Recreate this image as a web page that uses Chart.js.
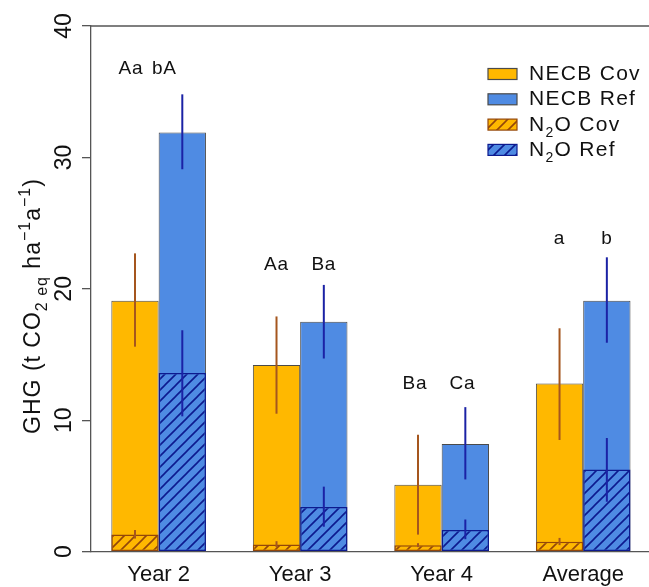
<!DOCTYPE html>
<html>
<head>
<meta charset="utf-8">
<title>GHG balance by year</title>
<script src="https://cdn.jsdelivr.net/npm/chart.js@4.4.1/dist/chart.umd.min.js"></script>
<style>
  html, body { margin: 0; padding: 0; background: #fff; }
  #wrap { width: 649px; height: 587px; position: relative; }
</style>
</head>
<body>
<div id="wrap"><canvas id="chartGhg"></canvas></div>
<script>
/* ------------------------------
 * data (t CO2eq ha-1 a-1)
 * ------------------------------ */
const categories = ['Year 2', 'Year 3', 'Year 4', 'Average'];
const yTicks = [0, 10, 20, 30, 40];

const necbCov = [19.1, 14.2, 5.1, 12.8];
const necbRef = [31.9, 17.5, 8.2, 19.1];
const n2oCov = [1.3, 0.55, 0.5, 0.75];
const n2oRef = [13.6, 3.4, 1.65, 6.25];

// error bar ends
const necbCovLo = [15.6, 10.5, 1.3, 8.5];
const necbCovHi = [22.7, 17.9, 8.9, 17.0];
const necbRefLo = [29.1, 14.7, 5.5, 15.9];
const necbRefHi = [34.8, 20.3, 11.0, 22.4];
const n2oCovLo = [1.0, 0.35, 0.35, 0.5];
const n2oCovHi = [1.65, 0.8, 0.65, 1.05];
const n2oRefLo = [10.3, 1.9, 0.95, 3.8];
const n2oRefHi = [16.85, 4.95, 2.45, 8.65];

// significance letters
const lettersCov = ['Aa', 'Aa', 'Ba', 'a'];
const lettersRef = ['bA', 'Ba', 'Ca', 'b'];
const letterLevel = [36.75, 21.8, 12.8, 23.8];

/* ------------------------------
 * helpers
 * ------------------------------ */
const FONT = '"Liberation Sans", Arial, sans-serif';
const cvs = document.getElementById('chartGhg');
const c2d = cvs.getContext('2d');

function hatch(bg, fg) {
    const s = 11;
    const c = document.createElement('canvas');
    c.width = s; c.height = s;
    const g = c.getContext('2d');
    g.fillStyle = bg;
    g.fillRect(0, 0, s, s);
    g.strokeStyle = fg;
    g.lineWidth = 1.6;
    g.beginPath();
    g.moveTo(0, s); g.lineTo(s, 0);
    g.moveTo(-s / 2, s / 2); g.lineTo(s / 2, -s / 2);
    g.moveTo(s / 2, s * 1.5); g.lineTo(s * 1.5, s / 2);
    g.stroke();
    return c2d.createPattern(c, 'repeat');
}

// parts: [text, 0 normal | 1 sub | 2 sup]
function drawRich(ctx, parts, x, y, size, spacing, centered) {
    const fontOf = k => `${k ? Math.round(size * 0.68) : size}px ${FONT}`;
    const shift = [0, size * 0.3, -size * 0.42];
    ctx.letterSpacing = spacing + 'px';
    ctx.textAlign = 'left';
    let w = 0;
    parts.forEach(([t, k]) => { ctx.font = fontOf(k); w += ctx.measureText(t).width; });
    let cx = centered ? x - w / 2 : x;
    parts.forEach(([t, k]) => {
        ctx.font = fontOf(k);
        ctx.fillText(t, cx, y + shift[k]);
        cx += ctx.measureText(t).width;
    });
    ctx.letterSpacing = '0px';
}

const yTitle = [['GHG (t CO', 0], ['2 eq', 1], [' ha', 0], ['\u22121', 2], ['a', 0], ['\u22121', 2], [')', 0]];
const legendParts = lbl => lbl.split(/(\d)/).filter(Boolean).map(t => [t, /^\d$/.test(t) ? 1 : 0]);

const COV = '#FFB800', REF = '#4F8BE3';
const COV_DARK = '#93470A', REF_DARK = '#0D1A8F';
const ERR_COV = '#A5561E', ERR_REF = '#1B22A5';

const pts = arr => arr.map((v, i) => ({ x: i, y: v }));

/* ------------------------------
 * error bars, letters, legend, y title
 * ------------------------------ */
const decor = {
    id: 'decor',
    afterDatasetsDraw(chart) {
        const { ctx, chartArea: a, scales: { y } } = chart;
        ctx.save();

        // top frame line
        ctx.strokeStyle = '#555';
        ctx.lineWidth = 1.3;
        ctx.beginPath();
        ctx.moveTo(a.left, a.top);
        ctx.lineTo(a.right, a.top);
        ctx.stroke();

        // error bars
        const errs = [
            [0, necbCovLo, necbCovHi, ERR_COV],
            [1, necbRefLo, necbRefHi, ERR_REF],
            [2, n2oCovLo, n2oCovHi, ERR_COV],
            [3, n2oRefLo, n2oRefHi, ERR_REF],
        ];
        ctx.lineWidth = 2;
        errs.forEach(([di, lo, hi, col]) => {
            ctx.strokeStyle = col;
            chart.getDatasetMeta(di).data.forEach((bar, i) => {
                ctx.beginPath();
                ctx.moveTo(bar.x, y.getPixelForValue(lo[i]));
                ctx.lineTo(bar.x, y.getPixelForValue(hi[i]));
                ctx.stroke();
            });
        });

        // letters above each group
        const nudge = [[-4, -18], [0, 0], [-3, -3], [0, 0]];
        ctx.fillStyle = '#111';
        ctx.font = `19px ${FONT}`;
        ctx.textAlign = 'center';
        ctx.textBaseline = 'middle';
        ctx.letterSpacing = '0.8px';
        const covBars = chart.getDatasetMeta(0).data;
        const refBars = chart.getDatasetMeta(1).data;
        categories.forEach((c, i) => {
            const ly = y.getPixelForValue(letterLevel[i]);
            ctx.fillText(lettersCov[i], covBars[i].x + nudge[i][0], ly);
            ctx.fillText(lettersRef[i], refBars[i].x + nudge[i][1], ly);
        });
        ctx.letterSpacing = '0px';

        // legend
        const lx = a.right - 161, ly0 = a.top + 48, step = 25.3;
        ctx.textBaseline = 'alphabetic';
        chart.data.datasets.forEach((ds, i) => {
            const cy = ly0 + i * step;
            ctx.fillStyle = ds.backgroundColor;
            ctx.fillRect(lx, cy - 5.5, 29, 11);
            ctx.strokeStyle = ds.borderColor;
            ctx.lineWidth = 1.2;
            ctx.strokeRect(lx, cy - 5.5, 29, 11);
            ctx.fillStyle = '#111';
            drawRich(ctx, legendParts(ds.label), lx + 41, cy + 6, 21, 1.3, false);
        });

        // y axis title
        ctx.translate(40, 306);
        ctx.rotate(-Math.PI / 2);
        ctx.fillStyle = '#111';
        drawRich(ctx, yTitle, 0, 0, 23, 1, true);

        ctx.restore();
    }
};

/* ------------------------------
 * chart
 * ------------------------------ */
Chart.defaults.font.family = FONT;

new Chart(cvs, {
    type: 'bar',
    data: {
        labels: categories,
        datasets: [
            { label: 'NECB Cov', data: pts(necbCov), stack: 'cov', order: 2,
              backgroundColor: COV, borderColor: '#4a4a4a', borderWidth: 1 },
            { label: 'NECB Ref', data: pts(necbRef), stack: 'ref', order: 2,
              backgroundColor: REF, borderColor: '#4a4a4a', borderWidth: 1 },
            { label: 'N2O Cov', data: pts(n2oCov), stack: 'cov', order: 1,
              backgroundColor: hatch(COV, COV_DARK), borderColor: COV_DARK, borderWidth: 1.5 },
            { label: 'N2O Ref', data: pts(n2oRef), stack: 'ref', order: 1,
              backgroundColor: hatch(REF, REF_DARK), borderColor: REF_DARK, borderWidth: 1.5 },
        ],
    },
    options: {
        responsive: true,
        maintainAspectRatio: false,
        animation: false,
        events: [],
        layout: { padding: { top: 26, left: 0, right: 0, bottom: 0 } },
        datasets: {
            bar: { categoryPercentage: 0.6686, barPercentage: 1, borderSkipped: false },
        },
        plugins: {
            legend: { display: false },
            tooltip: { enabled: false },
        },
        scales: {
            x: {
                type: 'linear',
                bounds: 'data',
                min: -0.478,
                max: 3.465,
                offset: false,
                afterBuildTicks: s => { s.ticks = categories.map((c, i) => ({ value: i })); },
                afterFit: s => { s.height = 35.3; },
                grid: { display: true, offset: false, drawOnChartArea: false, drawTicks: false },
                border: { display: true, color: '#555', width: 1.3 },
                ticks: {
                    color: '#111',
                    font: { size: 22 },
                    padding: 10,
                    maxRotation: 0,
                    autoSkip: false,
                    callback: v => categories[v],
                },
            },
            y: {
                min: 0,
                max: 40,
                stacked: false,
                afterBuildTicks: s => { s.ticks = yTicks.map(v => ({ value: v })); },
                afterFit: s => { s.width = 91; },
                grid: { drawOnChartArea: false, drawTicks: true, tickLength: 9, color: '#555', lineWidth: 1.3 },
                border: { display: true, color: '#555', width: 1.3 },
                ticks: {
                    color: '#111',
                    font: { size: 23 },
                    minRotation: 90,
                    maxRotation: 90,
                    crossAlign: 'center',
                    padding: 5,
                    autoSkip: false,
                },
            },
        },
    },
    plugins: [decor],
});
</script>
</body>
</html>
